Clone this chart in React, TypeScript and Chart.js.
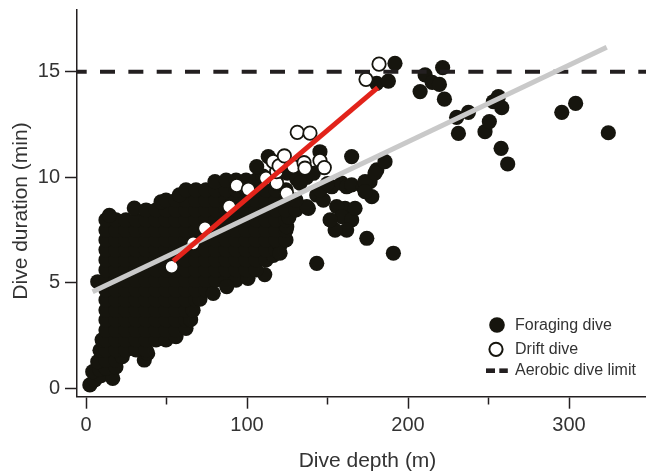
import { useEffect, useRef } from 'react';
import { Chart, registerables } from 'chart.js';

Chart.register(...registerables);

// ---------- data (depth in m, duration in min) ----------
const foragingDives: [number, number][] = [
  [2.4, 0.16], [5.5, 0.4], [9.3, 0.6], [16.6, 0.47],
  [4.2, 0.79], [8.5, 0.9], [12.4, 0.95], [18.6, 1.02],
  [7.3, 1.26], [12.4, 1.34], [18.6, 1.34], [22.5, 1.5], [36.2, 1.34], [38.3, 1.65],
  [8.7, 1.8], [12.4, 1.82], [18.6, 1.82], [24.8, 1.82], [31.1, 1.82], [37.3, 1.82],
  [10, 2.3], [12.4, 2.29], [18.6, 2.29], [24.8, 2.29], [31.1, 2.29], [37.3, 2.29], [43.5, 2.29], [49.7, 2.29], [55.9, 2.45],
  [12.4, 2.76], [18.6, 2.76], [24.8, 2.76], [31.1, 2.76], [37.3, 2.76], [43.5, 2.76], [49.7, 2.76], [55.9, 2.76], [62.1, 2.84],
  [12.4, 3.24], [18.6, 3.24], [24.8, 3.24], [31.1, 3.24], [37.3, 3.24], [43.5, 3.24], [49.7, 3.24], [55.9, 3.24], [62.1, 3.24], [65, 3.25],
  [12.4, 3.71], [18.6, 3.71], [24.8, 3.71], [31.1, 3.71], [37.3, 3.71], [43.5, 3.71], [49.7, 3.71], [55.9, 3.71], [62.1, 3.71], [66.5, 3.7],
  [12.4, 4.19], [18.6, 4.19], [24.8, 4.19], [31.1, 4.19], [37.3, 4.19], [43.5, 4.19], [49.7, 4.19], [55.9, 4.19], [62.1, 4.19], [68.3, 4.19], [70.8, 4.23],
  [12.4, 4.66], [18.6, 4.66], [24.8, 4.66], [31.1, 4.66], [37.3, 4.66], [43.5, 4.66], [49.7, 4.66], [55.9, 4.66], [62.1, 4.66], [68.3, 4.66], [74.5, 4.66], [79, 4.5],
  [7.3, 5.05], [12.4, 5.13], [18.6, 5.13], [24.8, 5.13], [31.1, 5.13], [37.3, 5.13], [43.5, 5.13], [49.7, 5.13], [55.9, 5.13], [62.1, 5.13], [68.3, 5.13], [74.5, 5.13], [80.7, 5.13], [87.0, 5.13], [93.2, 5.13], [87.4, 4.82], [100.6, 5.21], [111, 5.39],
  [12.4, 5.61], [18.6, 5.61], [24.8, 5.61], [31.1, 5.61], [37.3, 5.61], [43.5, 5.61], [49.7, 5.61], [55.9, 5.61], [62.1, 5.61], [68.3, 5.61], [74.5, 5.61], [80.7, 5.61], [87.0, 5.61], [93.2, 5.61], [99.4, 5.61], [105.6, 5.61],
  [12.4, 6.08], [18.6, 6.08], [24.8, 6.08], [31.1, 6.08], [37.3, 6.08], [43.5, 6.08], [49.7, 6.08], [55.9, 6.08], [62.1, 6.08], [68.3, 6.08], [74.5, 6.08], [80.7, 6.08], [87.0, 6.08], [93.2, 6.08], [99.4, 6.08], [105.6, 6.08], [111.8, 6.08], [116.3, 6.3],
  [12.4, 6.56], [18.6, 6.56], [24.8, 6.56], [31.1, 6.56], [37.3, 6.56], [43.5, 6.56], [49.7, 6.56], [55.9, 6.56], [62.1, 6.56], [68.3, 6.56], [74.5, 6.56], [80.7, 6.56], [87.0, 6.56], [93.2, 6.56], [99.4, 6.56], [105.6, 6.56], [111.8, 6.56], [118.0, 6.56], [120.5, 6.77], [120.5, 6.4],
  [12.4, 7.03], [18.6, 7.03], [24.8, 7.03], [31.1, 7.03], [37.3, 7.03], [43.5, 7.03], [49.7, 7.03], [55.9, 7.03], [62.1, 7.03], [68.3, 7.03], [74.5, 7.03], [80.7, 7.03], [87.0, 7.03], [93.2, 7.03], [99.4, 7.03], [105.6, 7.03], [111.8, 7.03], [118.0, 7.03], [124.2, 7.03],
  [12.4, 7.5], [18.6, 7.5], [24.8, 7.5], [31.1, 7.5], [37.3, 7.5], [43.5, 7.5], [49.7, 7.5], [55.9, 7.5], [62.1, 7.5], [68.3, 7.5], [74.5, 7.5], [80.7, 7.5], [87.0, 7.5], [93.2, 7.5], [99.4, 7.5], [105.6, 7.5], [111.8, 7.5], [118.0, 7.5], [124.2, 7.5], [124.7, 7.66],
  [12.4, 7.98], [18.6, 7.98], [24.8, 7.98], [31.1, 7.98], [37.3, 7.98], [43.5, 7.98], [49.7, 7.98], [55.9, 7.98], [62.1, 7.98], [68.3, 7.98], [74.5, 7.98], [80.7, 7.98], [87.0, 7.98], [93.2, 7.98], [99.4, 7.98], [105.6, 7.98], [111.8, 7.98], [118.0, 7.98], [124.2, 7.98], [14.5, 8.2], [126, 8.1],
  [30, 8.54], [37.3, 8.45], [43.5, 8.45], [49.7, 8.45], [55.9, 8.45], [62.1, 8.45], [68.3, 8.45], [74.5, 8.45], [80.7, 8.45], [87.0, 8.45], [93.2, 8.45], [99.4, 8.45], [105.6, 8.45], [111.8, 8.45], [118.0, 8.45], [124.2, 8.45], [130.4, 8.45], [138.1, 8.53], [137.1, 8.61],
  [46.6, 8.83], [49.7, 8.92], [55.9, 8.92], [62.1, 8.92], [68.3, 8.92], [74.5, 8.92], [80.7, 8.92], [87.0, 8.92], [93.2, 8.92], [99.4, 8.92], [105.6, 8.92], [111.8, 8.92], [118.0, 8.92], [124.2, 8.92], [130.4, 8.92],
  [58, 9.17], [62.1, 9.4], [68.3, 9.4], [74.5, 9.4], [80.7, 9.4], [87.0, 9.4], [93.2, 9.4], [99.4, 9.4], [105.6, 9.4], [111.8, 9.4], [118.0, 9.4], [124.2, 9.4], [80.1, 9.79],
  [87.0, 9.87], [93.2, 9.87], [99.4, 9.87], [105.6, 9.87], [111.8, 9.87], [118.0, 9.87], [110, 10.05],
  [106, 10.5], [113.2, 10.98], [120.5, 10.6], [125, 10.2], [131, 9.9], [137, 10.0], [141.2, 10.19], [145.3, 11.21], [165, 10.98],
  [132.9, 9.72], [143.3, 9.16], [147.4, 8.92], [152.6, 9.55], [145.3, 9.4], [150, 9.7], [158.8, 9.72], [161.9, 9.55], [165, 9.64], [172.2, 9.55], [176.4, 9.79], [173.3, 9.79], [180.6, 10.35], [179.5, 10.2], [185.7, 10.74], [177.5, 9.08], [173.3, 9.32],
  [160.9, 8.53], [155.7, 8.61], [158.8, 8.13], [165, 7.98], [161.9, 7.5], [154.7, 7.5], [151.6, 7.98], [167.1, 8.53], [174.4, 7.11], [190.9, 6.4], [143.3, 5.92],
  [180.5, 14.45], [187.8, 14.56], [191.9, 15.4],
  [207.5, 14.06], [210.6, 14.85], [215, 14.5], [219.5, 14.4], [221.5, 15.2], [222.6, 13.7],
  [230.2, 12.84], [231.3, 12.08], [237.5, 13.08], [247.8, 12.16], [250.5, 12.64], [253, 13.58], [256.1, 13.82], [258.2, 13.3], [257.8, 11.37], [261.9, 10.63],
  [295.5, 13.08], [304.1, 13.5], [324.4, 12.11],
];

const driftDives: [number, number][] = [
  [53.2, 5.76], [66.6, 6.87], [73.9, 7.58], [89, 8.61], [93.6, 9.61], [100.8, 9.43],
  [111.8, 9.95], [118.4, 9.72], [118.4, 10.27], [124.6, 9.24], [116.3, 10.74], [119.9, 10.54],
  [123.2, 11.01], [128.8, 10.5], [135.4, 10.69], [136, 10.43], [145.3, 10.79], [148, 10.46],
  [131.2, 12.13], [139.1, 12.09], [173.9, 14.64], [182, 15.36],
];

const driftFit: [number, number][] = [[54.2, 6.03], [181.2, 14.25]];
const allDivesFit: [number, number][] = [[4.1, 4.58], [323.4, 16.16]];
const aerobicDiveLimit = 15;

const xTickValues = [0, 50, 100, 150, 200, 250, 300];
const xTickLabels = ['0', '', '100', '', '200', '', '300'];
const yTickValues = [0, 5, 10, 15];
const yTickLabels = ['0', '5', '10', '15'];
const legendLabels = ['Foraging dive', 'Drift dive', 'Aerobic dive limit'];
const xAxisTitle = 'Dive depth (m)';
const yAxisTitle = 'Dive duration (min)';

const X_MIN = -5.59;
const X_MAX = 347.8;
const Y_MIN = -0.398;
const Y_MAX = 17.96;

// ---------- styles ----------
const FONT = "'Liberation Sans', Arial, Helvetica, sans-serif";
const TEXT = '#333333';
const AXIS = '#231f20';
const DOT = '#16150e';

const toPoints = (arr: [number, number][]) => arr.map(([x, y]) => ({ x, y }));

const overlayPlugin = {
  id: 'figureOverlay',
  afterDraw(chart: any) {
    const { ctx } = chart;
    ctx.save();
    // axis titles
    ctx.fillStyle = TEXT;
    ctx.font = `21px ${FONT}`;
    ctx.textAlign = 'center';
    ctx.textBaseline = 'alphabetic';
    ctx.fillText(xAxisTitle, 367.5, 467);
    ctx.save();
    ctx.translate(27, 211);
    ctx.rotate(-Math.PI / 2);
    ctx.fillText(yAxisTitle, 0, 0);
    ctx.restore();

    // legend
    ctx.beginPath();
    ctx.arc(497, 325, 7.8, 0, Math.PI * 2);
    ctx.fillStyle = DOT;
    ctx.fill();

    ctx.beginPath();
    ctx.arc(496, 349.3, 6.6, 0, Math.PI * 2);
    ctx.fillStyle = '#ffffff';
    ctx.fill();
    ctx.lineWidth = 2;
    ctx.strokeStyle = DOT;
    ctx.stroke();

    ctx.fillStyle = AXIS;
    ctx.fillRect(486, 368.4, 9, 4.6);
    ctx.fillRect(499.3, 368.4, 8.5, 4.6);

    ctx.font = `16px ${FONT}`;
    ctx.textAlign = 'left';
    ctx.fillStyle = TEXT;
    ctx.fillText(legendLabels[0], 515, 329.5);
    ctx.fillText(legendLabels[1], 515, 354);
    ctx.fillText(legendLabels[2], 515, 375);
    ctx.restore();
  },
};

export default function App() {
  const canvasRef = useRef<HTMLCanvasElement | null>(null);

  useEffect(() => {
    const canvas = canvasRef.current;
    if (!canvas) return;
    const chart = new Chart(canvas, {
      type: 'scatter',
      data: {
        datasets: [
          {
            label: 'Drift dive regression',
            data: toPoints(driftFit),
            showLine: true,
            borderColor: '#e2231a',
            borderWidth: 5,
            pointRadius: 0,
            pointHoverRadius: 0,
            fill: false,
            order: 0,
          } as any,
          {
            label: 'All dives regression',
            data: toPoints(allDivesFit),
            showLine: true,
            borderColor: '#c9c9c9',
            borderWidth: 5,
            pointRadius: 0,
            pointHoverRadius: 0,
            fill: false,
            order: 1,
          },
          {
            label: 'Aerobic dive limit',
            data: [
              { x: X_MIN, y: aerobicDiveLimit },
              { x: X_MAX, y: aerobicDiveLimit },
            ],
            showLine: true,
            borderColor: AXIS,
            borderWidth: 4,
            borderDash: [15, 13.33],
            borderDashOffset: 5.3,
            pointRadius: 0,
            pointHoverRadius: 0,
            fill: false,
            order: 2,
          },
          {
            label: 'Drift dive',
            data: toPoints(driftDives),
            pointRadius: 6.7,
            pointHoverRadius: 6.7,
            pointBackgroundColor: '#ffffff',
            pointBorderColor: DOT,
            pointBorderWidth: 1.8,
            order: 3,
          },
          {
            label: 'Foraging dive',
            data: toPoints(foragingDives),
            pointRadius: 7.6,
            pointHoverRadius: 7.6,
            pointBackgroundColor: DOT,
            pointBorderWidth: 0,
            order: 4,
          },
        ],
      },
      options: {
        responsive: false,
        animation: false,
        devicePixelRatio: 1,
        events: [],
        layout: { autoPadding: false, padding: { top: 9.3, right: 0, bottom: 0, left: 0 } },
        plugins: {
          legend: { display: false },
          tooltip: { enabled: false },
        },
        scales: {
          x: {
            type: 'linear',
            min: X_MIN,
            max: X_MAX,
            afterBuildTicks: (scale: any) => {
              scale.ticks = xTickValues.map((v) => ({ value: v }));
            },
            afterFit: (scale: any) => {
              scale.height = 75.3;
              scale.paddingLeft = 0;
              scale.paddingRight = 0;
            },
            ticks: {
              autoSkip: false,
              maxRotation: 0,
              padding: 5,
              color: TEXT,
              font: { family: FONT, size: 20 },
              callback: (value: any) => {
                const i = xTickValues.indexOf(Number(value));
                return i >= 0 ? xTickLabels[i] : '';
              },
            },
            grid: {
              drawOnChartArea: false,
              drawTicks: true,
              tickLength: 12,
              tickWidth: 1.5,
              tickColor: AXIS,
              tickBorderDash: (c: any) =>
                c.tick && Number(c.tick.value) % 100 !== 0 ? [7, 40] : [],
            } as any,
            border: { display: true, color: AXIS, width: 1.5 },
          },
          y: {
            type: 'linear',
            min: Y_MIN,
            max: Y_MAX,
            afterBuildTicks: (scale: any) => {
              scale.ticks = yTickValues.map((v) => ({ value: v }));
            },
            afterFit: (scale: any) => {
              scale.width = 77;
              scale.paddingTop = 0;
              scale.paddingBottom = 0;
            },
            ticks: {
              autoSkip: false,
              padding: 5,
              color: TEXT,
              font: { family: FONT, size: 20 },
              callback: (value: any) => {
                const i = yTickValues.indexOf(Number(value));
                return i >= 0 ? yTickLabels[i] : '';
              },
            },
            grid: {
              drawOnChartArea: false,
              drawTicks: true,
              tickLength: 12,
              tickWidth: 1.5,
              tickColor: AXIS,
            },
            border: { display: true, color: AXIS, width: 1.5 },
          },
        },
      },
      plugins: [overlayPlugin],
    });
    return () => chart.destroy();
  }, []);

  return (
    <div style={{ position: 'absolute', left: 0, top: 0, width: 646, height: 472, background: '#ffffff' }}>
      <canvas ref={canvasRef} width={646} height={472} style={{ display: 'block', width: 646, height: 472 }} />
    </div>
  );
}
